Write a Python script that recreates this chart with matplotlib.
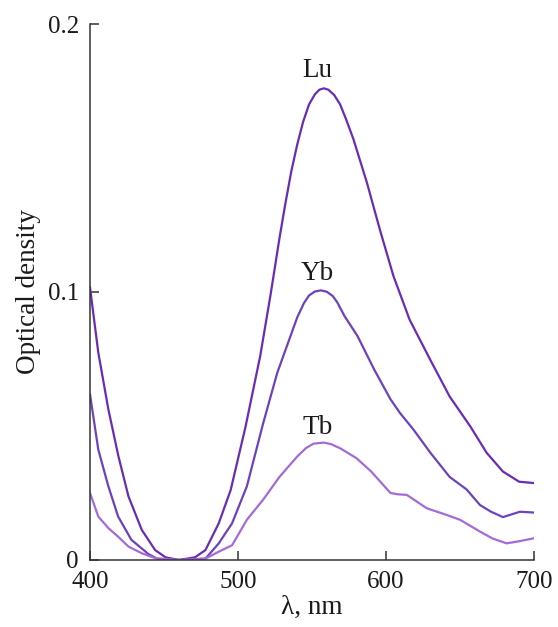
import matplotlib
matplotlib.use("Agg")
import matplotlib.pyplot as plt

plt.rcParams['font.family'] = ['Liberation Serif', 'DejaVu Serif']

lu_x = [400, 405.6, 412.4, 419.2, 426, 435, 444, 451, 460, 471, 478, 487, 495, 505, 515, 522, 528, 532, 536, 540, 544, 548, 552, 555, 558, 561, 565, 569, 573, 578, 587, 596, 605, 616, 630, 643, 657, 668, 679, 690, 700]
lu_y = [0.1017, 0.0774, 0.0562, 0.0387, 0.0237, 0.0112, 0.0037, 0.001, 0.0, 0.001, 0.0037, 0.0137, 0.026, 0.0495, 0.0761, 0.099, 0.120, 0.133, 0.145, 0.155, 0.1635, 0.170, 0.1738, 0.1755, 0.176, 0.1755, 0.1735, 0.170, 0.1645, 0.157, 0.141, 0.123, 0.106, 0.0896, 0.0746, 0.061, 0.0498, 0.040, 0.033, 0.0292, 0.0287]

yb_x = [400, 405.6, 412.4, 419, 428, 439.5, 446, 460, 478, 487, 496, 506, 517, 526.5, 535.5, 540, 544.5, 548, 552, 556, 560, 564, 567, 572, 580.7, 592, 603, 609.5, 618.5, 630, 643, 654.5, 663.5, 671, 679, 690.5, 700]
yb_y = [0.0618, 0.0412, 0.0275, 0.0162, 0.0075, 0.0022, 0.0003, 0.0, 0.0005, 0.0062, 0.0137, 0.0275, 0.051, 0.0698, 0.0836, 0.0905, 0.0958, 0.0987, 0.1002, 0.1006, 0.1001, 0.0985, 0.0962, 0.091, 0.0836, 0.0711, 0.060, 0.0548, 0.0487, 0.040, 0.031, 0.0263, 0.0205, 0.018, 0.016, 0.018, 0.0177]

tb_x = [400, 405.6, 412.4, 419, 426, 435, 444, 460, 478, 487, 496, 506, 517, 528, 540, 546, 551, 558, 563, 569, 580, 590, 603, 608, 614, 627.5, 640, 650, 663.5, 672, 681.5, 690, 700]
tb_y = [0.025, 0.0162, 0.0119, 0.0087, 0.005, 0.0025, 0.0007, 0.0, 0.0005, 0.0031, 0.0055, 0.015, 0.0225, 0.031, 0.0386, 0.0418, 0.0434, 0.0438, 0.0432, 0.0417, 0.038, 0.033, 0.025, 0.0245, 0.0243, 0.0193, 0.017, 0.015, 0.0106, 0.008, 0.0062, 0.007, 0.0081]

labels = ["Lu", "Yb", "Tb"]
label_pos = [(553.5, 0.1825), (553.5, 0.107), (553.5, 0.0496)]
colors = ["#6a2cb4", "#6c42bf", "#a46ad8"]

x_ticks = [400, 500, 600, 700]
y_ticks = [0, 0.1, 0.2]
y_ticklabels = ["0", "0.1", "0.2"]

fig = plt.figure(figsize=(5.58, 6.27), dpi=100)
ax = fig.add_axes([0.1613, 0.1069, 0.7957, 0.8548])

for xs, ys, c in zip([lu_x, yb_x, tb_x], [lu_y, yb_y, tb_y], colors):
    ax.plot(xs, ys, color=c, lw=1.6, solid_joinstyle='round')

for lab, (lx, ly) in zip(labels, label_pos):
    ax.text(lx, ly, lab, ha='center', va='center', fontsize=19.5, color='#1a1a1a')

ax.set_xlim(400, 700)
ax.set_ylim(0, 0.2)
ax.set_xticks(x_ticks)
ax.set_xticklabels([str(t) for t in x_ticks])
ax.set_yticks(y_ticks)
ax.set_yticklabels(y_ticklabels)
for s in ['top', 'right']:
    ax.spines[s].set_visible(False)
for s in ['left', 'bottom']:
    ax.spines[s].set_color('#333333')
    ax.spines[s].set_linewidth(1.1)
ax.tick_params(direction='in', length=6.5, width=1.1, color='#333333', labelsize=18, labelcolor='#1a1a1a')
ax.tick_params(axis='x', pad=8)
ax.tick_params(axis='y', pad=8)
ax.set_xlabel("λ, nm", fontsize=19.5, color='#1a1a1a', labelpad=1)
ax.set_ylabel("Optical density", fontsize=19.5, color='#1a1a1a', labelpad=5)

fig.savefig("out.png", dpi=100)
